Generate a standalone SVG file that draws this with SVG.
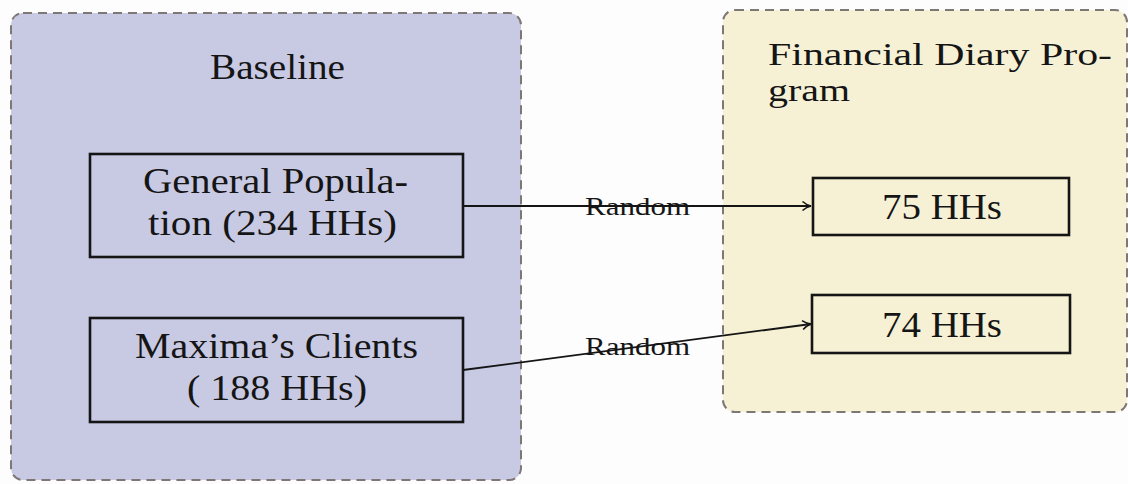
<svg xmlns="http://www.w3.org/2000/svg" width="1128" height="484" viewBox="0 0 1128 484">
  <style>
    .cont { stroke: #7f7676; stroke-width: 2; stroke-dasharray: 9 6; }
    .box { fill: none; stroke: #151515; stroke-width: 2.6; }
    .t { font-family: "Liberation Serif", "Times New Roman", serif; fill: #151515; }
    .big { font-size: 35px; }
    .title { font-size: 32px; }
    .lab { font-size: 25px; }
    .conn { stroke: #151515; stroke-width: 1.8; fill: none; }
  </style>
  <defs>
    <marker id="arr" viewBox="0 0 12 12" refX="10.5" refY="6" markerWidth="12" markerHeight="12" markerUnits="userSpaceOnUse" orient="auto">
      <path d="M2,1.5 Q6,5 10.5,6 Q6,7 2,10.5" fill="none" stroke="#151515" stroke-width="1.6"/>
    </marker>
  </defs>
  <rect width="1128" height="484" fill="#fdfdfd"/>

  <g id="baseline">
    <rect class="cont" x="11" y="13" width="510" height="467" rx="12" fill="#c8c9e3"/>
    <text class="t big" x="210" y="79" textLength="135" lengthAdjust="spacingAndGlyphs">Baseline</text>
  </g>

  <g id="program">
    <rect class="cont" x="723" y="10" width="404" height="402" rx="12" fill="#f6f1d5"/>
    <text class="t title" x="768" y="65" textLength="344" lengthAdjust="spacingAndGlyphs">Financial Diary Pro-</text>
    <text class="t title" x="768" y="101" textLength="82" lengthAdjust="spacingAndGlyphs">gram</text>
  </g>

  <g id="general">
    <rect class="box" x="90" y="154" width="373" height="103"/>
    <text class="t big" x="143" y="193" textLength="265" lengthAdjust="spacingAndGlyphs">General Popula-</text>
    <text class="t big" x="148" y="235" textLength="249" lengthAdjust="spacingAndGlyphs">tion (234 HHs)</text>
  </g>

  <g id="maxima">
    <rect class="box" x="90" y="318" width="373" height="104"/>
    <text class="t big" x="135" y="358" textLength="283" lengthAdjust="spacingAndGlyphs">Maxima’s Clients</text>
    <text class="t big" x="187" y="400" textLength="180" lengthAdjust="spacingAndGlyphs">( 188 HHs)</text>
  </g>

  <g id="hh75">
    <rect class="box" x="813" y="178" width="256" height="57"/>
    <text class="t big" x="882" y="219" textLength="120" lengthAdjust="spacingAndGlyphs">75 HHs</text>
  </g>

  <g id="hh74">
    <rect class="box" x="812" y="295" width="258" height="58"/>
    <text class="t big" x="882" y="337" textLength="120" lengthAdjust="spacingAndGlyphs">74 HHs</text>
  </g>

  <g id="connectors">
    <line class="conn" x1="463" y1="206" x2="811" y2="206" marker-end="url(#arr)"/>
    <line class="conn" x1="463" y1="370" x2="811" y2="324" marker-end="url(#arr)"/>
    <text class="t lab" x="585" y="215" textLength="105" lengthAdjust="spacingAndGlyphs">Random</text>
    <text class="t lab" x="585" y="355" textLength="105" lengthAdjust="spacingAndGlyphs">Random</text>
  </g>
</svg>
